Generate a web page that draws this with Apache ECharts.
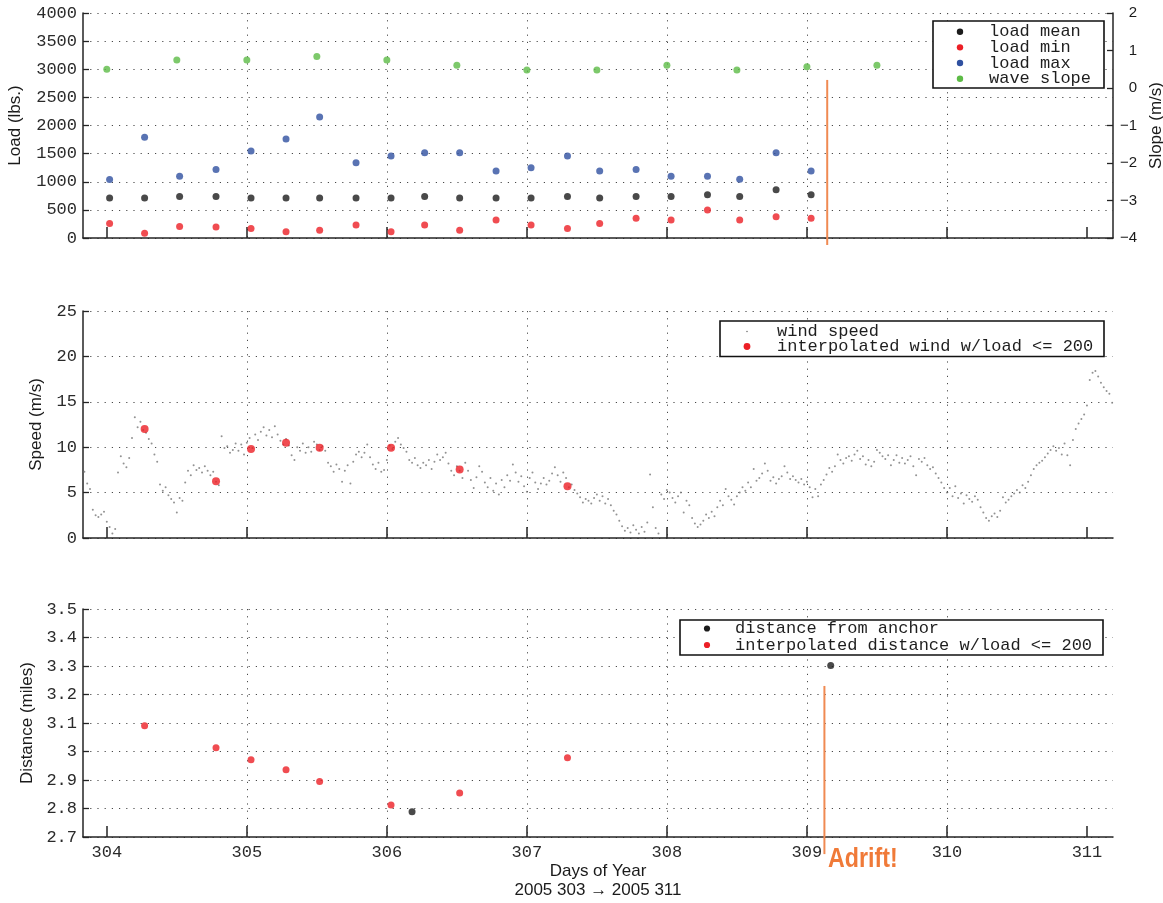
<!DOCTYPE html>
<html>
<head>
<meta charset="utf-8">
<script src="https://cdn.jsdelivr.net/npm/echarts@6/dist/echarts.min.js"></script>
<style>
  html, body { margin: 0; padding: 0; background: #ffffff; }
  #chart { width: 1163px; height: 903px; }
</style>
</head>
<body>
<div id="chart"></div>
<script>
// ---- data -------------------------------------------------------------
const dayTicks = [304, 305, 306, 307, 308, 309, 310, 311];

// buoy load statistics (lbs), sampled every ~6 h
const loadDays = [304.02, 304.27, 304.52, 304.78, 305.03, 305.28, 305.52, 305.78, 306.03,
                  306.27, 306.52, 306.78, 307.03, 307.29, 307.52, 307.78, 308.03, 308.29,
                  308.52, 308.78, 309.03];
const loadMean = [710, 710, 740, 740, 710, 710, 710, 710, 710,
                  740, 710, 710, 710, 740, 710, 740, 740, 770, 740, 860, 770];
const loadMin  = [260, 85, 205, 195, 170, 110, 140, 230, 110,
                  230, 140, 320, 230, 170, 260, 350, 320, 500, 320, 380, 350];
const loadMax  = [1040, 1790, 1100, 1220, 1545, 1760, 2150, 1340, 1460,
                  1515, 1515, 1190, 1250, 1460, 1190, 1220, 1100, 1100, 1045, 1515, 1190];

// wave slope (m/s), twice a day
const slopeDays = [304.0, 304.5, 305.0, 305.5, 306.0, 306.5, 307.0, 307.5, 308.0, 308.5, 309.0, 309.5];
const waveSlope = [0.50, 0.75, 0.75, 0.84, 0.75, 0.61, 0.48, 0.48, 0.61, 0.48, 0.57, 0.61];

// wind speed record [day, m/s]
const windSpeed = [
  [303.84,7.3],[303.86,6.0],[303.88,5.4],[303.90,3.1],[303.92,2.5],[303.94,2.3],[303.96,2.6],[303.98,2.9],
  [304.00,1.8],[304.02,1.2],[304.04,0.5],[304.06,1.0],[304.08,7.2],[304.10,9.0],[304.12,8.2],[304.14,7.8],
  [304.16,8.8],[304.18,11.0],[304.20,13.3],[304.22,12.2],[304.24,12.8],[304.26,11.9],[304.28,11.6],[304.30,10.9],
  [304.32,10.4],[304.34,9.2],[304.36,8.4],[304.38,5.9],[304.40,5.2],[304.42,5.6],[304.44,4.7],[304.46,4.3],
  [304.48,3.9],[304.50,2.8],[304.52,4.4],[304.54,4.1],[304.56,6.1],[304.58,7.4],[304.60,6.9],[304.62,8.0],
  [304.64,7.5],[304.66,7.7],[304.68,7.2],[304.70,7.9],[304.72,7.4],[304.74,6.9],[304.76,7.3],[304.78,6.2],
  [304.80,5.8],[304.82,11.2],[304.84,9.9],[304.86,10.1],[304.88,9.4],[304.90,9.7],[304.92,10.4],[304.94,9.6],
  [304.96,10.3],[304.98,9.2],[305.00,10.5],[305.02,11.0],[305.04,9.9],[305.06,11.4],[305.08,10.8],[305.10,11.7],
  [305.12,12.2],[305.14,11.3],[305.16,11.9],[305.18,11.1],[305.20,12.3],[305.22,11.4],[305.24,10.7],[305.26,10.3],
  [305.28,10.9],[305.30,10.2],[305.32,9.1],[305.34,8.6],[305.36,10.0],[305.38,9.6],[305.40,10.4],[305.42,9.4],
  [305.44,10.0],[305.46,9.5],[305.48,10.6],[305.50,10.3],[305.52,9.7],[305.54,10.1],[305.56,9.6],[305.58,8.3],
  [305.60,7.9],[305.62,7.3],[305.64,8.1],[305.66,7.6],[305.68,6.2],[305.70,7.4],[305.72,8.0],[305.74,6.0],
  [305.76,8.4],[305.78,9.2],[305.80,9.5],[305.82,8.9],[305.84,9.4],[305.86,10.3],[305.88,8.9],[305.90,8.1],
  [305.92,7.6],[305.94,8.3],[305.96,7.3],[305.98,7.5],[306.00,8.6],[306.02,10.2],[306.04,9.8],[306.06,10.6],
  [306.08,11.0],[306.10,10.3],[306.12,9.9],[306.14,9.5],[306.16,8.6],[306.18,8.3],[306.20,8.8],[306.22,8.0],
  [306.24,7.7],[306.26,8.3],[306.28,8.0],[306.30,8.6],[306.32,7.6],[306.34,8.4],[306.36,9.2],[306.38,8.6],
  [306.40,8.9],[306.42,9.4],[306.44,8.2],[306.46,7.4],[306.48,6.9],[306.50,7.9],[306.52,7.4],[306.54,6.6],
  [306.56,8.3],[306.58,7.4],[306.60,6.4],[306.62,5.5],[306.64,6.7],[306.66,7.9],[306.68,7.3],[306.70,6.1],
  [306.72,5.6],[306.74,6.6],[306.76,5.2],[306.78,6.0],[306.80,4.8],[306.82,6.4],[306.84,5.6],[306.86,6.9],
  [306.88,6.3],[306.90,8.1],[306.92,7.2],[306.94,6.2],[306.96,6.8],[306.98,5.7],[307.00,5.1],[307.02,6.6],
  [307.04,7.2],[307.06,6.1],[307.08,5.4],[307.10,6.0],[307.12,6.6],[307.14,5.9],[307.16,6.3],[307.18,7.1],
  [307.20,7.8],[307.22,6.9],[307.24,6.2],[307.26,7.2],[307.28,6.6],[307.30,5.6],[307.32,5.9],[307.34,5.3],
  [307.36,4.9],[307.38,4.5],[307.40,3.9],[307.42,4.3],[307.44,4.1],[307.46,3.8],[307.48,4.4],[307.50,4.8],
  [307.52,4.1],[307.54,4.6],[307.56,3.8],[307.58,4.3],[307.60,3.6],[307.62,3.0],[307.64,2.6],[307.66,1.9],
  [307.68,1.3],[307.70,0.8],[307.72,1.1],[307.74,0.6],[307.76,1.4],[307.78,0.9],[307.80,0.5],[307.82,1.2],
  [307.84,0.7],[307.86,1.7],[307.88,7.0],[307.90,3.4],[307.92,1.1],[307.94,0.5],[307.96,4.8],[307.98,4.3],
  [308.00,5.3],[308.02,5.0],[308.04,4.4],[308.06,3.9],[308.08,4.6],[308.10,5.0],[308.12,2.8],[308.14,4.1],
  [308.16,3.6],[308.18,2.2],[308.20,1.6],[308.22,1.2],[308.24,1.5],[308.26,1.9],[308.28,2.6],[308.30,2.2],
  [308.32,2.9],[308.34,2.4],[308.36,3.4],[308.38,4.1],[308.40,3.6],[308.42,5.4],[308.44,4.6],[308.46,4.2],
  [308.48,3.7],[308.50,4.6],[308.52,5.0],[308.54,5.6],[308.56,5.2],[308.58,6.1],[308.60,5.6],[308.62,7.6],
  [308.64,6.3],[308.66,6.6],[308.68,7.1],[308.70,8.2],[308.72,7.4],[308.74,6.3],[308.76,6.7],[308.78,6.0],
  [308.80,6.5],[308.82,6.8],[308.84,7.9],[308.86,7.2],[308.88,6.5],[308.90,6.8],[308.92,6.4],[308.94,6.1],
  [308.96,6.5],[308.98,5.9],[309.00,6.2],[309.02,5.6],[309.04,4.5],[309.06,5.4],[309.08,4.6],[309.10,5.9],
  [309.12,6.4],[309.14,7.0],[309.16,7.7],[309.18,7.3],[309.20,7.9],[309.22,9.2],[309.24,8.6],[309.26,8.2],
  [309.28,8.8],[309.30,9.0],[309.32,8.5],[309.34,9.2],[309.36,9.6],[309.38,8.7],[309.40,9.0],[309.42,8.1],
  [309.44,8.6],[309.46,7.9],[309.48,8.4],[309.50,9.7],[309.52,9.4],[309.54,9.0],[309.56,8.7],[309.58,9.1],
  [309.60,8.0],[309.62,8.6],[309.64,9.1],[309.66,8.3],[309.68,8.8],[309.70,8.2],[309.72,8.6],[309.74,9.0],
  [309.76,7.9],[309.78,6.9],[309.80,8.7],[309.82,8.4],[309.84,8.8],[309.86,8.0],[309.88,7.6],[309.90,7.8],
  [309.92,7.1],[309.94,6.6],[309.96,6.1],[309.98,5.5],[310.00,5.0],[310.02,5.5],[310.04,4.6],[310.06,5.7],
  [310.08,4.4],[310.10,4.9],[310.12,3.8],[310.14,4.7],[310.16,4.3],[310.18,4.0],[310.20,4.6],[310.22,4.2],
  [310.24,3.4],[310.26,2.8],[310.28,2.2],[310.30,1.9],[310.32,2.4],[310.34,2.7],[310.36,2.3],[310.38,3.0],
  [310.40,4.5],[310.42,3.9],[310.44,4.2],[310.46,4.6],[310.48,4.9],[310.50,5.3],[310.52,5.0],[310.54,5.8],
  [310.56,5.5],[310.58,6.2],[310.60,6.9],[310.62,7.6],[310.64,8.0],[310.66,8.3],[310.68,8.5],[310.70,8.9],
  [310.72,9.3],[310.74,9.7],[310.76,10.1],[310.78,9.6],[310.80,9.9],[310.82,9.2],[310.84,10.4],[310.86,9.1],
  [310.88,8.0],[310.90,10.8],[310.92,12.0],[310.94,12.6],[310.96,13.1],[310.98,13.6],[311.00,14.6],[311.02,17.4],
  [311.04,18.2],[311.06,18.4],[311.08,17.8],[311.10,17.1],[311.12,16.6],[311.14,16.2],[311.16,15.9],[311.18,14.9]
];

// samples where load <= 200: interpolated wind and distance
const interpDays = [304.27, 304.78, 305.03, 305.28, 305.52, 306.03, 306.52, 307.29];
const windInterp = [12.0, 6.25, 9.8, 10.5, 9.95, 9.95, 7.55, 5.7];
const distInterp = [3.09, 3.013, 2.971, 2.936, 2.895, 2.812, 2.854, 2.978];

// measured distance from anchor (miles)
const anchorDays = [306.18, 309.17];
const anchorDist = [2.789, 3.302];

// moment the buoy broke loose
const adriftDayLoad = 309.145;
const adriftLoadSpan = [2810, -125];
const adriftDayDist = 309.125;
const adriftDistSpan = [3.23, 2.64];

// ---- styling ----------------------------------------------------------
const X_MIN = 303.83, X_MAX = 311.186;
const MONO = '"Liberation Mono", "DejaVu Sans Mono", monospace';
const SANS = '"Liberation Sans", Arial, sans-serif';
const AXIS_COLOR = '#242424';
const C_BLACK = '#1c1c1c', C_RED = '#ec1f26', C_BLUE = '#2f50a0', C_GREEN = '#5dbb46';
const C_ORANGE = '#f08a52', C_WIND = '#777777';
const gridDots = { color: '#4a4a4a', width: 1, type: [1.2, 6] };

const zip = (xs, ys) => xs.map((x, i) => [x, ys[i]]);

function xAxis(gridIndex, withLabels) {
  return {
    type: 'value', gridIndex, min: X_MIN, max: X_MAX, splitNumber: 8,
    axisLine: { show: true, onZero: false, lineStyle: { color: AXIS_COLOR, width: 1.5 } },
    axisTick: { show: true, inside: true, length: 11, customValues: dayTicks,
                lineStyle: { color: AXIS_COLOR, width: 1.5 } },
    axisLabel: { show: withLabels, customValues: dayTicks, margin: 7,
                 fontFamily: MONO, fontSize: 17, color: '#2a2a2a' },
    splitLine: { show: true, showMinLine: false, showMaxLine: false, lineStyle: gridDots },
    name: withLabels ? 'Days of Year\n2005 303 \u2192 2005 311' : '',
    nameLocation: 'middle', nameGap: 25,
    nameTextStyle: { fontFamily: SANS, fontSize: 17, lineHeight: 19, color: '#1a1a1a' }
  };
}

function yAxis(gridIndex, min, max, interval, name, nameGap, extra) {
  return Object.assign({
    type: 'value', gridIndex, min, max, interval,
    axisLine: { show: true, lineStyle: { color: AXIS_COLOR, width: 1.5 } },
    axisTick: { show: true, inside: true, length: 6, lineStyle: { color: AXIS_COLOR, width: 1.3 } },
    axisLabel: { margin: 6, fontFamily: MONO, fontSize: 17, color: '#2a2a2a',
                 formatter: v => String(+v.toFixed(2)) },
    splitLine: { show: true, lineStyle: gridDots },
    name, nameLocation: 'middle', nameGap,
    nameTextStyle: { fontFamily: SANS, fontSize: 17, color: '#1a1a1a' }
  }, extra || {});
}

function dots(name, x, y, data, color, size, z) {
  return { type: 'scatter', name, xAxisIndex: x, yAxisIndex: y, data,
           symbol: 'circle', symbolSize: size, itemStyle: { color },
           silent: true, z: z || 3 };
}

function marker(name, x, y, data) {
  return { type: 'line', name, xAxisIndex: x, yAxisIndex: y, data, clip: false,
           showSymbol: false, symbol: 'none', silent: true, z: 4,
           lineStyle: { color: C_ORANGE, width: 2 } };
}

// framed legend drawn at a fixed spot in the panel's upper right corner
function legendBox(box, rows, markerX, textX, rowY0, rowStep) {
  const children = [{
    type: 'rect', shape: { x: box[0], y: box[1], width: box[2], height: box[3] },
    style: { fill: '#ffffff', stroke: '#111111', lineWidth: 1.6 }, z: 10
  }];
  rows.forEach((r, i) => {
    const cy = rowY0 + i * rowStep;
    children.push({ type: 'circle', shape: { cx: markerX, cy, r: r.r },
                    style: { fill: r.color }, z: 11 });
    children.push({ type: 'text', x: textX, y: cy, z: 11,
                    style: { text: r.text, font: '17px ' + MONO, fill: '#1e1e1e',
                             verticalAlign: 'middle', align: 'left' } });
  });
  return { type: 'group', children };
}

const chart = echarts.init(document.getElementById('chart'), null, { renderer: 'canvas' });

const panel = { left: 83, right: 50, outerBoundsMode: 'none', containLabel: false };

chart.setOption({
  animation: false,
  backgroundColor: '#ffffff',
  grid: [
    Object.assign({ top: 13, height: 225 }, panel),
    Object.assign({ top: 311, height: 227 }, panel),
    Object.assign({ top: 609, height: 228 }, panel)
  ],
  xAxis: [xAxis(0, false), xAxis(1, false), xAxis(2, true)],
  yAxis: [
    yAxis(0, 0, 4000, 500, 'Load (lbs.)', 59),
    yAxis(0, -4, 2, 1, 'Slope (m/s)', 30, {
      position: 'right',
      splitLine: { show: false },
      axisLabel: { margin: 24, fontFamily: SANS, fontSize: 15, color: '#1a1a1a', align: 'right',
                   formatter: v => String(v).replace('-', '\u2212') }
    }),
    yAxis(1, 0, 25, 5, 'Speed (m/s)', 38),
    yAxis(2, 2.7, 3.5, 0.1, 'Distance (miles)', 46)
  ],
  series: [
    dots('load mean', 0, 0, zip(loadDays, loadMean), C_BLACK, 7),
    dots('load min', 0, 0, zip(loadDays, loadMin), C_RED, 7),
    dots('load max', 0, 0, zip(loadDays, loadMax), C_BLUE, 7),
    dots('wave slope', 0, 1, zip(slopeDays, waveSlope), C_GREEN, 7),
    marker('adrift', 0, 0, [[adriftDayLoad, adriftLoadSpan[0]], [adriftDayLoad, adriftLoadSpan[1]]]),

    dots('wind speed', 1, 2, windSpeed, C_WIND, 2, 2),
    dots('interpolated wind w/load <= 200', 1, 2, zip(interpDays, windInterp), C_RED, 8),

    dots('distance from anchor', 2, 3, zip(anchorDays, anchorDist), C_BLACK, 7),
    dots('interpolated distance w/load <= 200', 2, 3, zip(interpDays, distInterp), C_RED, 7),
    marker('adrift', 2, 3, [[adriftDayDist, adriftDistSpan[0]], [adriftDayDist, adriftDistSpan[1]]])
  ],
  graphic: [
    legendBox([933, 21, 171, 67], [
      { text: 'load mean', color: C_BLACK, r: 3.2 },
      { text: 'load min', color: C_RED, r: 3.2 },
      { text: 'load max', color: C_BLUE, r: 3.2 },
      { text: 'wave slope', color: C_GREEN, r: 3.2 }
    ], 960, 989, 31.7, 15.67),
    legendBox([720, 321, 384, 35.5], [
      { text: 'wind speed', color: C_WIND, r: 0.8 },
      { text: 'interpolated wind w/load <= 200', color: C_RED, r: 3.4 }
    ], 747, 777, 331.5, 15),
    legendBox([680, 620, 423, 35], [
      { text: 'distance from anchor', color: C_BLACK, r: 3.1 },
      { text: 'interpolated distance w/load <= 200', color: C_RED, r: 3.1 }
    ], 707, 735, 628.5, 16.5),
    { type: 'text', x: 828, y: 846, scaleX: 0.86, z: 12,
      style: { text: 'Adrift!', font: 'bold 27px ' + SANS, fill: '#f07a38' } }
  ]
});
</script>
</body>
</html>
